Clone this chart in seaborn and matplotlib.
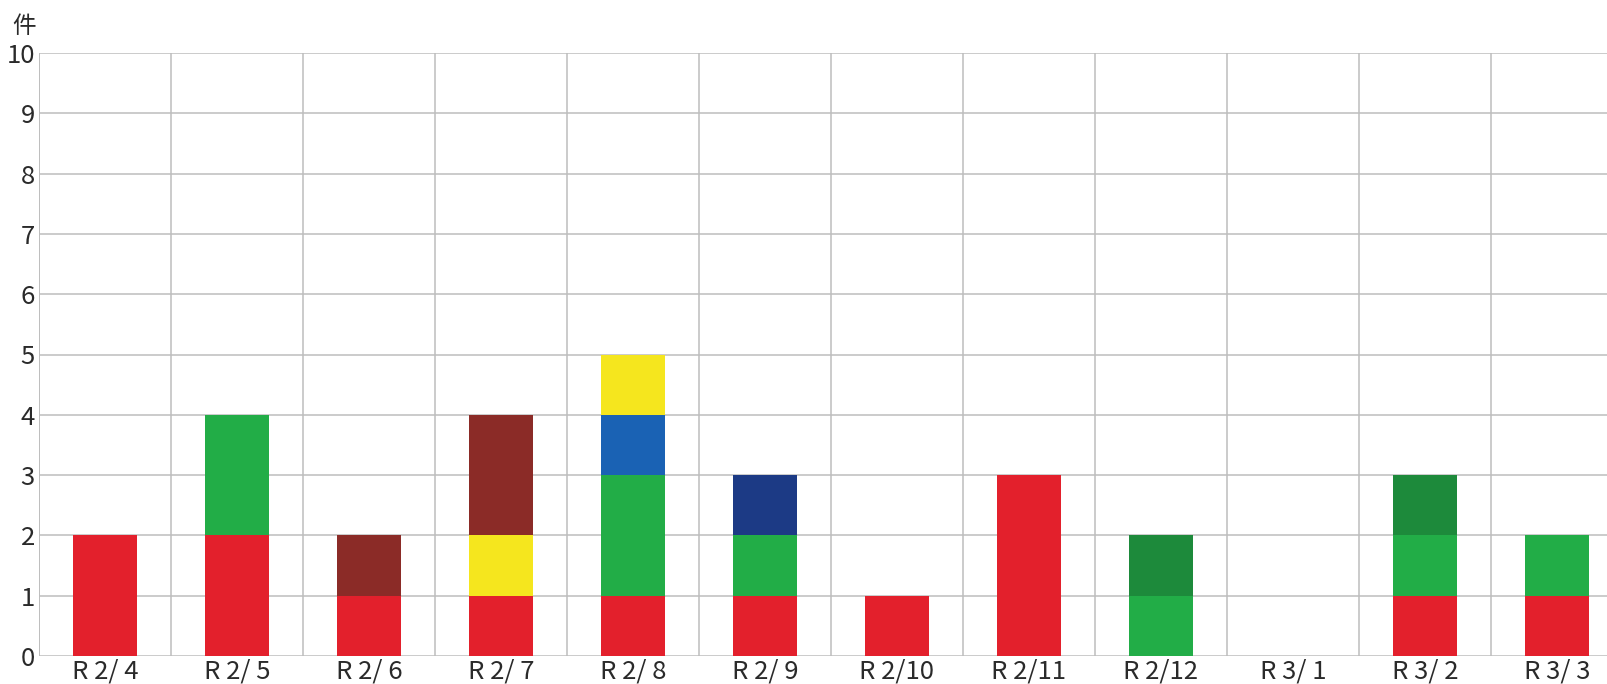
import matplotlib
matplotlib.use("Agg")
import matplotlib.pyplot as plt
import numpy as np
import seaborn as sns

# Monthly case counts by category, stacked bottom to top in this order
months = ["R 2/ 4", "R 2/ 5", "R 2/ 6", "R 2/ 7", "R 2/ 8", "R 2/ 9",
          "R 2/10", "R 2/11", "R 2/12", "R 3/ 1", "R 3/ 2", "R 3/ 3"]
red        = [2, 2, 1, 1, 1, 1, 1, 3, 0, 0, 1, 1]
green      = [0, 2, 0, 0, 2, 1, 0, 0, 1, 0, 1, 1]
dark_green = [0, 0, 0, 0, 0, 0, 0, 0, 1, 0, 1, 0]
blue       = [0, 0, 0, 0, 1, 0, 0, 0, 0, 0, 0, 0]
navy       = [0, 0, 0, 0, 0, 1, 0, 0, 0, 0, 0, 0]
yellow     = [0, 0, 0, 1, 1, 0, 0, 0, 0, 0, 0, 0]
brown      = [0, 0, 1, 2, 0, 0, 0, 0, 0, 0, 0, 0]

series = [red, green, dark_green, blue, navy, yellow, brown]
colors = ["#e3202c", "#22ad47", "#1d8a3b", "#1a62b4", "#1c3a85", "#f5e61e", "#8b2b27"]
yticks = list(range(0, 11))
unit_label = "件"

sns.set_style("white")
plt.rcParams["font.family"] = ["Noto Sans CJK JP", "DejaVu Sans"]

fig = plt.figure(figsize=(16.08, 6.84), dpi=100)
ax = fig.add_axes([39 / 1608, 28 / 684, 1584 / 1608, 603 / 684])

# Draw cumulative totals from the top layer down so each lower layer covers the one above
cum = np.cumsum(np.array(series), axis=0)
for level in range(len(series) - 1, -1, -1):
    sns.barplot(x=months, y=cum[level], color=colors[level], width=0.48,
                saturation=1, linewidth=0, ax=ax, zorder=3)

grid_color = "#bdbdbd"
ax.set_xlim(-0.5, len(months) - 0.5)
ax.set_ylim(0, 10)
ax.set_yticks(yticks)
ax.set_xticks(np.arange(-0.5, len(months) + 0.5, 1), minor=True)
ax.grid(True, which="major", axis="y", color=grid_color, lw=1.1, zorder=0)
ax.grid(True, which="minor", axis="x", color=grid_color, lw=1.1, zorder=0)
ax.grid(False, which="major", axis="x")
for side in ax.spines.values():
    side.set_visible(False)
ax.axvline(-0.5, color=grid_color, lw=1.3, zorder=1)
ax.tick_params(axis="both", which="both", length=0)
ax.tick_params(axis="y", labelsize=18.5, pad=3, colors="#2a2a2a")
ax.tick_params(axis="x", labelsize=18.5, pad=2, colors="#2a2a2a")
ax.set_xlabel("")
ax.set_ylabel("")

fig.text(12 / 1608, 1 - 33 / 684, unit_label, fontsize=17, color="#2a2a2a")

fig.savefig("out.png", dpi=100, facecolor="white")
